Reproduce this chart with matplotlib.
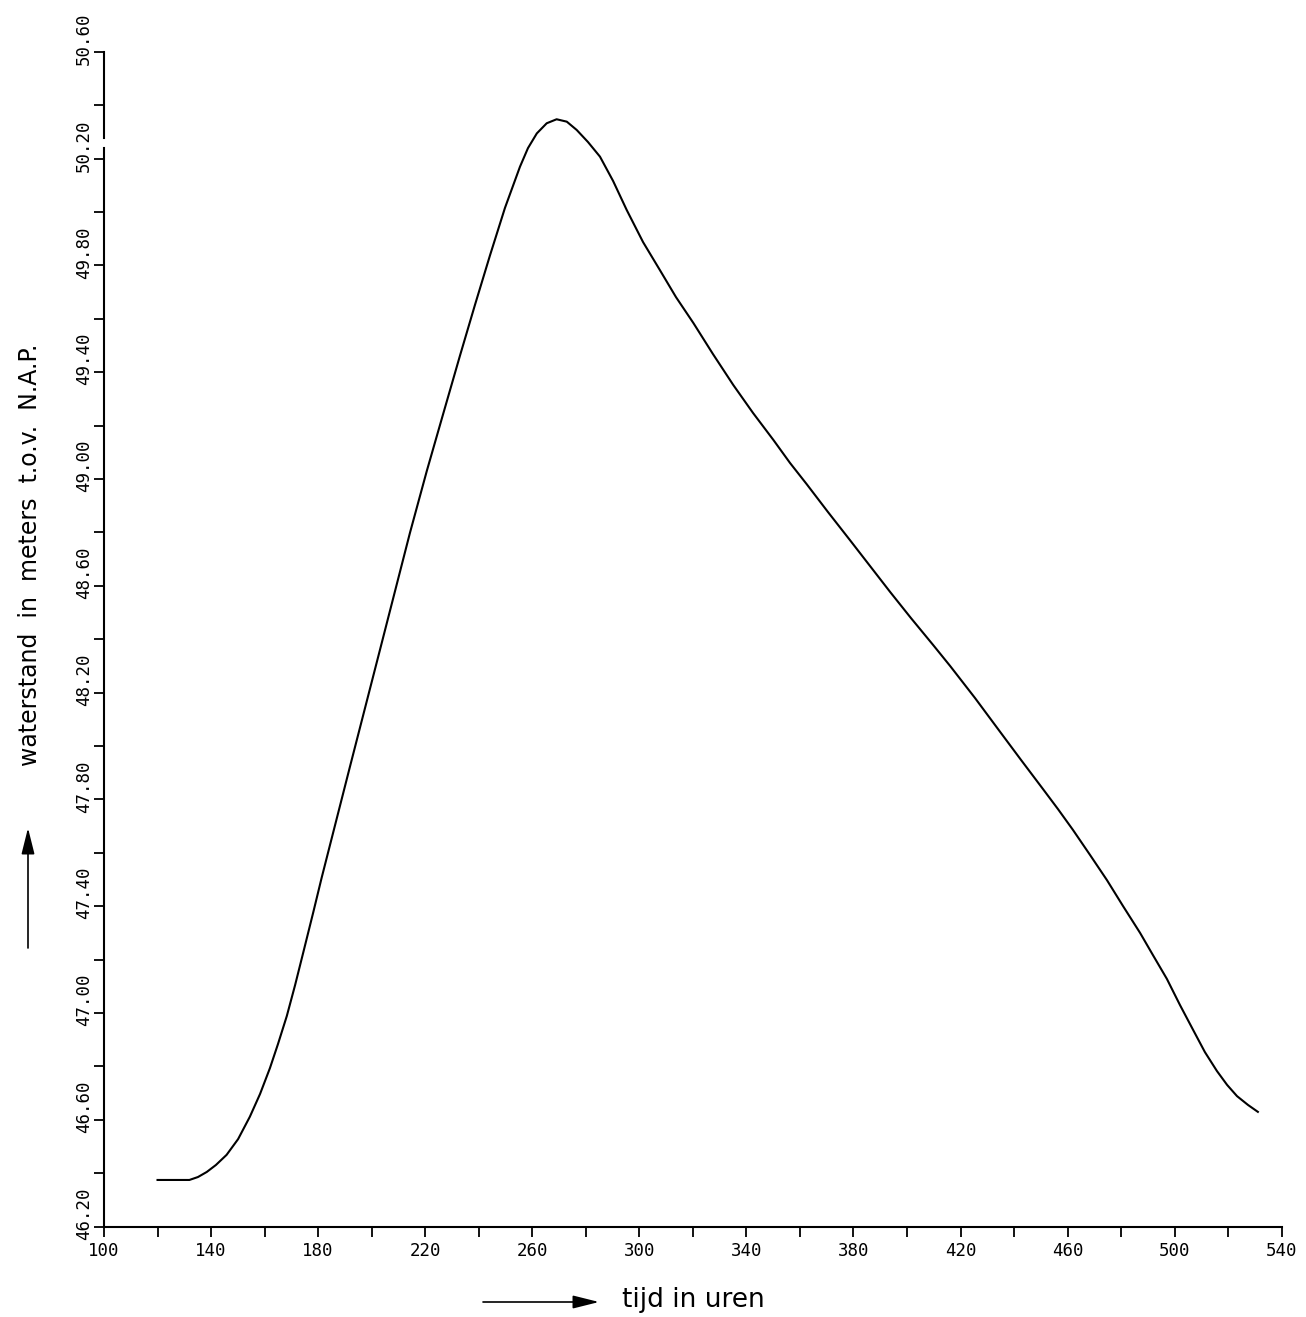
import numpy as np
import matplotlib
matplotlib.use("Agg")
import matplotlib.pyplot as plt
from matplotlib.transforms import blended_transform_factory, ScaledTranslation

tijd = np.array([120.0, 131.9, 135.1, 138.4, 141.8, 145.8, 150.1, 154.5, 158.3, 162.0,
                 165.0, 168.3, 171.4, 174.5, 178.2, 181.3, 191.9, 203.1, 214.3, 220.6,
                 226.7, 233.0, 238.6, 244.2, 249.8, 255.4, 258.4, 261.7, 265.4, 269.1,
                 272.9, 276.6, 280.8, 285.3, 290.2, 295.3, 301.4, 307.7, 313.7, 320.2,
                 327.5, 335.1, 342.5, 350.1, 356.3, 362.5, 370.5, 378.7, 386.2, 393.7,
                 401.5, 409.8, 416.1, 425.4, 434.8, 442.6, 450.8, 456.4, 462.0, 468.4,
                 474.7, 480.7, 487.1, 491.9, 497.1, 502.0, 506.9, 511.3, 515.8, 519.6,
                 523.3, 527.4, 531.1])
stand = np.array([46.375, 46.375, 46.386, 46.405, 46.431, 46.469, 46.528, 46.612, 46.697, 46.794,
                  46.884, 46.989, 47.105, 47.229, 47.378, 47.506, 47.923, 48.360, 48.798, 49.030,
                  49.243, 49.462, 49.652, 49.837, 50.015, 50.169, 50.239, 50.294, 50.332, 50.347,
                  50.338, 50.307, 50.262, 50.207, 50.116, 50.007, 49.887, 49.782, 49.681, 49.584,
                  49.468, 49.352, 49.247, 49.146, 49.060, 48.981, 48.876, 48.771, 48.674, 48.577,
                  48.479, 48.378, 48.300, 48.180, 48.053, 47.948, 47.839, 47.764, 47.686, 47.592,
                  47.498, 47.401, 47.300, 47.217, 47.128, 47.030, 46.937, 46.854, 46.783, 46.731,
                  46.689, 46.656, 46.630])

x_labels = np.arange(100, 541, 40)
x_minor = np.arange(120, 541, 40)
y_labels = np.round(np.arange(46.2, 50.61, 0.4), 2)
y_minor = np.round(np.arange(46.4, 50.61, 0.4), 2)

W, H = 1306, 1317
fig = plt.figure(figsize=(W / 100, H / 100), dpi=100)
ax = fig.add_axes([104 / W, 90.3 / H, (1281.7 - 104) / W, (1226.7 - 51.7) / H])

ax.plot(tijd, stand, color="black", lw=1.5, solid_joinstyle="round")

ax.set_xlim(100, 540)
ax.set_ylim(46.2, 50.6)

for s in ["top", "right"]:
    ax.spines[s].set_visible(False)
for s in ["left", "bottom"]:
    ax.spines[s].set_linewidth(1.5)

# kleine onderbreking in de verticale as (zoals op het origineel)
ax.spines["left"].set_bounds(46.2, 50.24)
ax.axvline(100, ymin=(50.277 - 46.2) / 4.4, ymax=1, color="black", lw=1.5, clip_on=False)

mono = "DejaVu Sans Mono"
ax.set_xticks(x_labels)
ax.set_xticks(x_minor, minor=True)
ax.set_xticklabels([str(v) for v in x_labels], fontfamily=mono, fontsize=12.5)
ax.set_yticks(y_labels)
ax.set_yticks(y_minor, minor=True)
ax.tick_params(axis="both", which="both", direction="out", length=7, width=1.3, color="black")
ax.tick_params(axis="x", pad=4)
ax.tick_params(axis="y", labelleft=False)

# y-labels gedraaid, iets boven de tick
trans = blended_transform_factory(ax.transAxes, ax.transData) + \
    ScaledTranslation(-0.20, 0.13, fig.dpi_scale_trans)
for v in y_labels:
    ax.text(0, v, f"{v:.2f}", rotation=90, ha="center", va="center",
            transform=trans, fontfamily=mono, fontsize=12.5)

# aslabels met pijlen
pijl = dict(arrowstyle="-|>,head_length=0.8,head_width=0.2", color="black", lw=1.2,
            mutation_scale=20, shrinkA=0, shrinkB=0)

fig.text(622 / W, 1 - 1300 / H, "tijd in uren", ha="left", va="center", fontsize=19)
ax.annotate("", xy=(599 / W, 1 - 1302 / H), xytext=(483 / W, 1 - 1302 / H),
            xycoords="figure fraction", textcoords="figure fraction", arrowprops=pijl)

fig.text(30 / W, 1 - 555 / H, "waterstand  in  meters  t.o.v.  N.A.P.", rotation=90,
         ha="center", va="center", fontsize=17)
ax.annotate("", xy=(28 / W, 1 - 828 / H), xytext=(28 / W, 1 - 948 / H),
            xycoords="figure fraction", textcoords="figure fraction", arrowprops=pijl)

fig.savefig("out.png", dpi=100, facecolor="white")
